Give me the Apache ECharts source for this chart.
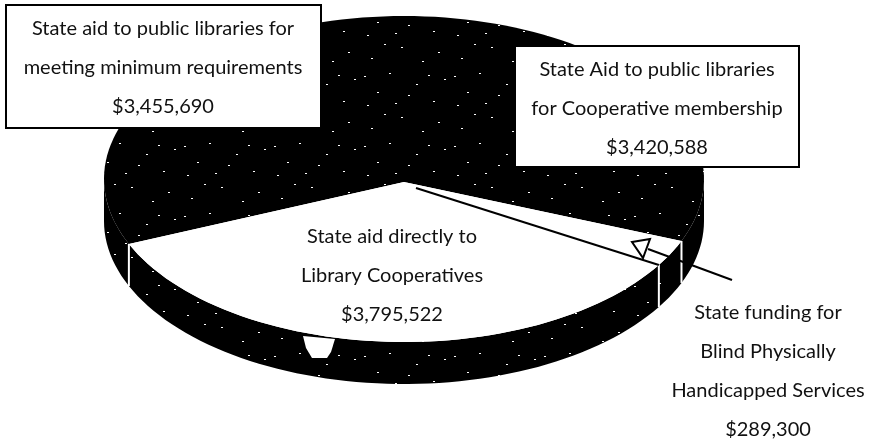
<!DOCTYPE html>
<html>
<head>
<meta charset="utf-8">
<script src="https://cdn.jsdelivr.net/npm/echarts@6/dist/echarts.min.js"></script>
<style>
  html, body { margin: 0; padding: 0; background: #fff; }
  #main { width: 869px; height: 439px; }
</style>
</head>
<body>
<div id="main"></div>
<script>
// clockwise from the left edge of the white slice
const categories = [
  ["State aid to public libraries for", "meeting minimum requirements"],
  ["State Aid to public libraries", "for Cooperative membership"],
  ["State funding for", "Blind Physically", "Handicapped Services"],
  ["State aid directly to", "Library Cooperatives"],
];
const amounts = [3455690, 3420588, 289300, 3795522];

// pie layout, in pixels of the page
const pie = { cx: 404, cy: 179, rx: 300, ry: 163, depth: 42, start: 156.5, apexDrop: 3 };
const sliceFill = ["dark", "dark", "#fff", "#fff"];
const labelPos = [
  { x: 163, y: 29, box: [6, 5, 315, 123] },
  { x: 657, y: 70, box: [515, 46, 284, 121] },
  { x: 768, y: 313 },
  { x: 392, y: 237 },
];
const LINE_H = 38.8;
const FONT = '20px Lato, "Open Sans", sans-serif';

const total = amounts.reduce((a, b) => a + b, 0);
const starts = [];
amounts.reduce((acc, v, i) => {
  starts[i] = acc;
  return acc + (v / total) * 360;
}, pie.start);

// scanned print noise on the black ink
function speckleTile() {
  const c = document.createElement("canvas");
  c.width = 90;
  c.height = 70;
  const g = c.getContext("2d");
  g.fillStyle = "#000";
  g.fillRect(0, 0, 90, 70);
  g.fillStyle = "#fff";
  const dots = [
    [4, 6], [17, 22], [29, 3], [41, 47], [56, 14], [73, 31], [84, 9], [11, 58],
    [35, 33], [62, 61], [78, 52], [48, 25], [24, 44], [68, 5], [7, 35],
  ];
  dots.forEach((d) => g.fillRect(d[0], d[1], 2, 1));
  return c;
}
const dark = { image: speckleTile(), repeat: "repeat" };

function formatMoney(v) {
  return "$" + v.toLocaleString("en-US");
}

function arcPoints(api, from, to, drop) {
  const pts = [];
  const steps = Math.max(2, Math.ceil(Math.abs(to - from) / 2));
  for (let i = 0; i <= steps; i++) {
    const a = ((from + ((to - from) * i) / steps) * Math.PI) / 180;
    pts.push(api.coord([pie.cx + pie.rx * Math.cos(a), pie.cy + pie.ry * Math.sin(a) + drop]));
  }
  return pts;
}

function renderSlice(params, api) {
  const i = params.dataIndex;
  const from = starts[i];
  const to = from + (api.value(1) / total) * 360;
  const fill = sliceFill[i] === "dark" ? dark : sliceFill[i];
  const children = [];

  // visible wall is only the front half of the rim (0-180 deg, also 360-540)
  [[0, 180], [360, 540]].forEach((r) => {
    const a = Math.max(from, r[0]);
    const b = Math.min(to, r[1]);
    if (b > a) {
      const points = arcPoints(api, a, b, 0).concat(arcPoints(api, b, a, pie.depth));
      children.push({ type: "polygon", shape: { points }, style: { fill: dark } });
    }
  });

  const apex = api.coord([pie.cx, pie.cy + pie.apexDrop]);
  children.push({
    type: "polygon",
    shape: { points: [apex].concat(arcPoints(api, from, to, 0)) },
    style: { fill },
  });
  return { type: "group", children };
}

// white seams on the wall and the dividing line of the small slice
function renderSeam(params, api) {
  const a = starts[params.dataIndex];
  const rad = (a * Math.PI) / 180;
  // seams on the back of the pie stay hidden
  if (Math.sin(rad) <= 0) return null;
  const top = [pie.cx + pie.rx * Math.cos(rad), pie.cy + pie.ry * Math.sin(rad)];
  const p0 = api.coord(top);
  const p1 = api.coord([top[0], top[1] + pie.depth]);
  const children = [
    { type: "line", shape: { x1: p0[0], y1: p0[1], x2: p1[0], y2: p1[1] }, style: { stroke: "#fff", lineWidth: 2 } },
  ];
  if (params.dataIndex === 3) {
    const apex = api.coord([pie.cx, pie.cy + pie.apexDrop]);
    children.push({
      type: "line",
      shape: { x1: apex[0] + 12, y1: apex[1] + 6, x2: p0[0], y2: p0[1] },
      style: { stroke: "#000", lineWidth: 2 },
    });
  }
  return { type: "group", children };
}

function renderLabel(params, api) {
  const i = params.dataIndex;
  const pos = labelPos[i];
  const lines = categories[i].concat(formatMoney(api.value(1)));
  const children = [];
  if (pos.box) {
    const tl = api.coord([pos.box[0], pos.box[1]]);
    children.push({
      type: "rect",
      shape: { x: tl[0], y: tl[1], width: pos.box[2], height: pos.box[3] },
      style: { fill: "#fff", stroke: "#000", lineWidth: 2 },
    });
  }
  lines.forEach((t, k) => {
    const p = api.coord([pos.x, pos.y + k * LINE_H]);
    children.push({
      type: "text",
      style: { x: p[0], y: p[1], text: t, font: FONT, fill: "#111", align: "center", verticalAlign: "middle" },
    });
  });
  return { type: "group", children };
}

const sliceData = amounts.map((v, i) => [i, v]);

const myChart = echarts.init(document.getElementById("main"), null, { renderer: "canvas" });
myChart.setOption({
  animation: false,
  backgroundColor: "#fff",
  grid: { left: 0, right: 0, top: 0, bottom: 0 },
  xAxis: { type: "value", min: 0, max: 869, show: false },
  yAxis: { type: "value", min: 0, max: 439, inverse: true, show: false },
  graphic: [
    // blemish on the rim
    {
      type: "polygon",
      z: 6,
      shape: { points: [[303, 336], [335, 339], [331, 352], [327, 358], [312, 358], [306, 348]] },
      style: { fill: "#fff" },
    },
    // hollow arrow and its leader
    {
      type: "polygon",
      z: 7,
      shape: { points: [[650, 239], [632, 242], [643, 258]] },
      style: { fill: "#fff", stroke: "#000", lineWidth: 2 },
    },
    {
      type: "line",
      z: 6,
      shape: { x1: 648, y1: 249, x2: 732, y2: 280 },
      style: { stroke: "#000", lineWidth: 2 },
    },
  ],
  series: [
    { type: "custom", name: "slices", coordinateSystem: "cartesian2d", clip: false, z: 2, silent: true, data: sliceData, renderItem: renderSlice },
    { type: "custom", name: "seams", coordinateSystem: "cartesian2d", clip: false, z: 3, silent: true, data: sliceData, renderItem: renderSeam },
    { type: "custom", name: "labels", coordinateSystem: "cartesian2d", clip: false, z: 10, silent: true, data: sliceData, renderItem: renderLabel },
  ],
});
</script>
</body>
</html>
